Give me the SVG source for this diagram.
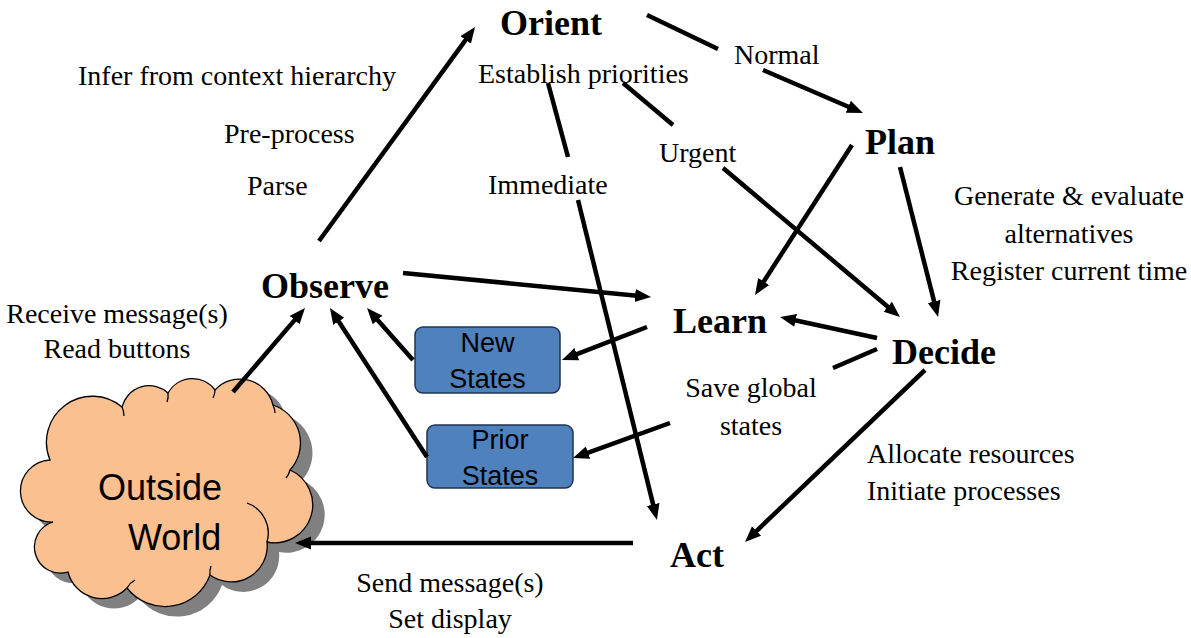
<svg xmlns="http://www.w3.org/2000/svg" width="1191" height="638" viewBox="0 0 1191 638">
<style>
.lbl{font-family:"Liberation Serif","Times New Roman",serif;font-size:28px;fill:#000}
.hd{font-family:"Liberation Serif","Times New Roman",serif;font-size:36px;font-weight:bold;fill:#000}
.bx{fill:#4F81BD;stroke:#1F3350;stroke-width:1.5}
.bt{font-family:"Liberation Sans",Arial,sans-serif;font-size:27px;fill:#000;text-anchor:middle}
.ct{font-family:"Liberation Sans",Arial,sans-serif;font-size:36px;fill:#000}
.ln{stroke:#000;stroke-width:4.5;fill:none}
.ar{stroke:#000;stroke-width:4.5;fill:none;marker-end:url(#ah)}
.ca{fill:none;stroke:#000;stroke-width:1.3}
</style>
<defs>
<marker id="ah" markerUnits="userSpaceOnUse" markerWidth="18" markerHeight="14" refX="2" refY="6.5" orient="auto">
<path d="M0,0 L16,6.5 L0,13 z" fill="#000"/>
</marker>
<path id="cloudShape" d="M50,460 A46,46 0 0 1 122,407 A28,28 0 0 1 168,393 A28,28 0 0 1 215,390 A34,34 0 0 1 273,405 A40,40 0 0 1 290,470 A38,38 0 0 1 267,542 A36,36 0 0 1 210,575 A48,48 0 0 1 127,588 A35,35 0 0 1 68,572 A26,26 0 0 1 53,522 A31,31 0 0 1 50,460 Z"/>
</defs>
<rect width="1191" height="638" fill="#fff"/>

<g id="outside-world">
<use href="#cloudShape" transform="translate(12,10)" fill="#808080"/>
<use href="#cloudShape" fill="#FAC090" stroke="#000" stroke-width="1.3"/>
<path class="ca" d="M247,503 A32,32 0 0 1 267,542"/>
<path class="ca" d="M122,407 A20,20 0 0 1 124,416"/>
<path class="ca" d="M168,393 A18,18 0 0 1 167,402"/>
<path class="ca" d="M215,390 A18,18 0 0 1 213,398"/>
<path class="ca" d="M273,405 A20,20 0 0 1 275,413"/>
<path class="ca" d="M290,470 A20,20 0 0 1 286,478"/>
<path class="ca" d="M210,575 A20,20 0 0 1 211,566"/>
<path class="ca" d="M127,588 A20,20 0 0 1 135,580"/>
<text class="ct" x="98" y="500">Outside</text>
<text class="ct" x="128" y="550">World</text>
</g>

<g id="new-states">
<rect class="bx" x="415" y="327" width="145" height="66" rx="8"/>
<text class="bt" x="487.5" y="352">New</text>
<text class="bt" x="487.5" y="388">States</text>
</g>
<g id="prior-states">
<rect class="bx" x="427" y="425" width="146" height="63" rx="8"/>
<text class="bt" x="500" y="449">Prior</text>
<text class="bt" x="500" y="485">States</text>
</g>

<g id="orient"><text class="hd" x="500" y="35">Orient</text></g>
<g id="observe"><text class="hd" x="261" y="298">Observe</text></g>
<g id="plan"><text class="hd" x="865" y="154">Plan</text></g>
<g id="learn"><text class="hd" x="673" y="333">Learn</text></g>
<g id="decide"><text class="hd" x="892" y="364">Decide</text></g>
<g id="act"><text class="hd" x="670" y="567">Act</text></g>

<g id="labels">
<text class="lbl" x="78" y="85">Infer from context hierarchy</text>
<text class="lbl" x="224" y="143">Pre-process</text>
<text class="lbl" x="247" y="195">Parse</text>
<text class="lbl" x="478" y="83">Establish priorities</text>
<text class="lbl" x="734" y="64">Normal</text>
<text class="lbl" x="659" y="162">Urgent</text>
<text class="lbl" x="488" y="194">Immediate</text>
<text class="lbl" x="1069" y="205" text-anchor="middle">Generate &amp; evaluate</text>
<text class="lbl" x="1069" y="243" text-anchor="middle">alternatives</text>
<text class="lbl" x="1069" y="280" text-anchor="middle">Register current time</text>
<text class="lbl" x="117" y="323" text-anchor="middle">Receive message(s)</text>
<text class="lbl" x="117" y="358" text-anchor="middle">Read buttons</text>
<text class="lbl" x="751" y="397" text-anchor="middle">Save global</text>
<text class="lbl" x="751" y="435" text-anchor="middle">states</text>
<text class="lbl" x="867" y="463">Allocate resources</text>
<text class="lbl" x="867" y="500">Initiate processes</text>
<text class="lbl" x="450" y="592" text-anchor="middle">Send message(s)</text>
<text class="lbl" x="450" y="628" text-anchor="middle">Set display</text>
</g>

<g id="connectors">
<line class="ar" x1="319" y1="241" x2="466.8" y2="38.3"/>
<line class="ln" x1="647" y1="15" x2="718" y2="49"/>
<line class="ar" x1="763" y1="70" x2="850.1" y2="107.5"/>
<line class="ln" x1="548" y1="83" x2="568" y2="157"/>
<line class="ar" x1="578" y1="200" x2="653.6" y2="506.4"/>
<line class="ln" x1="623" y1="83" x2="673" y2="125"/>
<line class="ar" x1="723" y1="168" x2="889.3" y2="308"/>
<line class="ar" x1="852" y1="145" x2="762.6" y2="283.2"/>
<line class="ar" x1="900" y1="167" x2="934.6" y2="303.4"/>
<line class="ar" x1="877" y1="338" x2="793.7" y2="320"/>
<line class="ar" x1="403" y1="273" x2="637.1" y2="295.7"/>
<line class="ar" x1="647" y1="327" x2="575" y2="354.9"/>
<line class="ln" x1="877" y1="349" x2="833" y2="368"/>
<line class="ar" x1="670" y1="423" x2="586.2" y2="453.3"/>
<line class="ar" x1="413" y1="360" x2="376.3" y2="318.5"/>
<line class="ar" x1="427" y1="457" x2="337.6" y2="319.7"/>
<line class="ar" x1="233" y1="392" x2="295.9" y2="318.6"/>
<line class="ar" x1="925" y1="370" x2="755.1" y2="532.3"/>
<line class="ar" x1="633" y1="543" x2="309" y2="543"/>
</g>
</svg>
